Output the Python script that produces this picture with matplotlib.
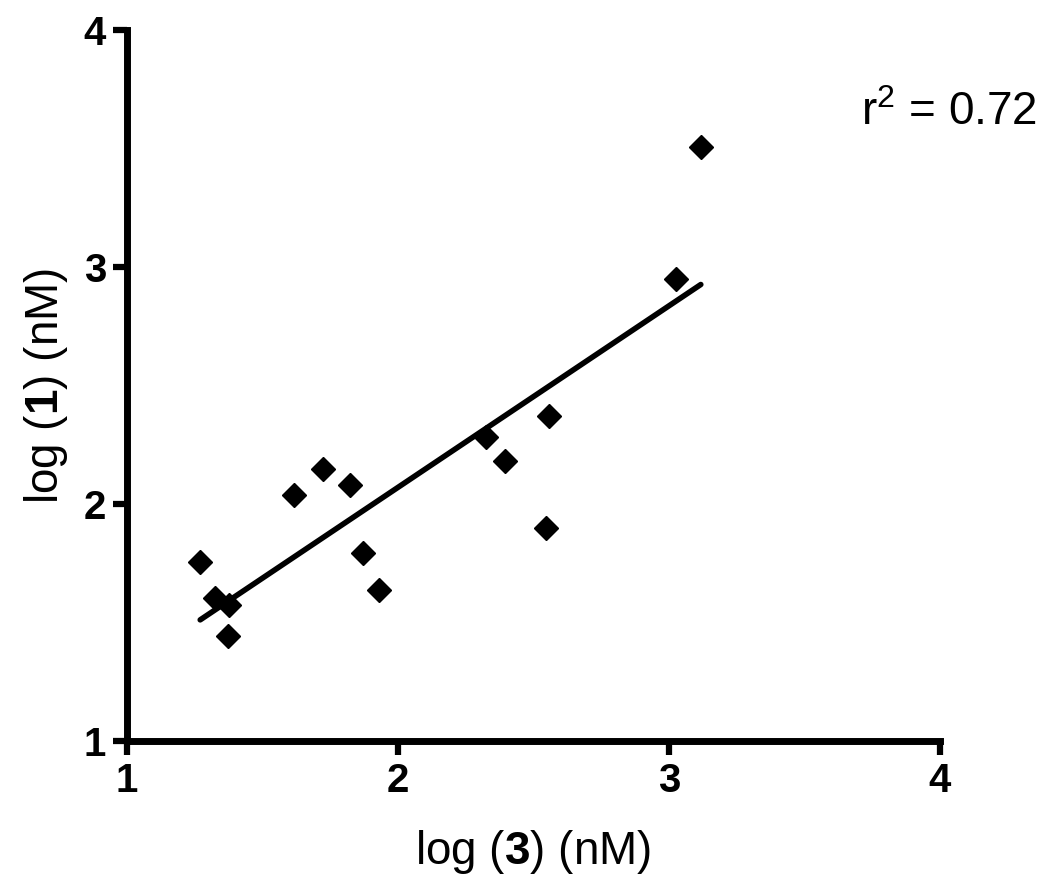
import numpy as np
import matplotlib
matplotlib.use("Agg")
import matplotlib.pyplot as plt

plt.rcParams['font.family'] = ['Liberation Sans', 'DejaVu Sans']
plt.rcParams['mathtext.fontset'] = 'custom'
plt.rcParams['mathtext.rm'] = 'Liberation Sans'
plt.rcParams['mathtext.bf'] = 'Liberation Sans:bold'
plt.rcParams['mathtext.default'] = 'regular'

# data: log(3) vs log(1), nM
log3 = [1.27, 1.325, 1.376, 1.373, 1.616, 1.723, 1.823, 1.871, 1.93,
        2.325, 2.395, 2.557, 2.546, 3.026, 3.118]
log1 = [1.755, 1.603, 1.574, 1.443, 2.038, 2.148, 2.08, 1.793, 1.637,
        2.283, 2.181, 2.371, 1.899, 2.949, 3.506]
xticks = [1, 2, 3, 4]
yticks = [1, 2, 3, 4]
r2_label = r'r$^2$ = 0.72'

fig = plt.figure(figsize=(10.5, 8.92), dpi=100)
ax = fig.add_axes([0.121, 0.1693, 0.774, 0.7971])

x = np.array(log3)
y = np.array(log1)
ax.plot(x, y, linestyle='none', marker='D', markersize=12,
        color='black', zorder=3)

slope, intercept = np.polyfit(x, y, 1)
xl = np.array([x.min(), x.max()])
ax.plot(xl, slope * xl + intercept, color='black', linewidth=4,
        solid_capstyle='round', zorder=2)

ax.set_xlim(1, 4)
ax.set_ylim(1, 4)
ax.set_xticks(xticks)
ax.set_yticks(yticks)
ax.set_xticklabels([str(t) for t in xticks], fontsize=29, fontweight='bold')
ax.set_yticklabels([str(t) for t in yticks], fontsize=29, fontweight='bold')

for s in ['top', 'right']:
    ax.spines[s].set_visible(False)
for s in ['left', 'bottom']:
    ax.spines[s].set_linewidth(5)
    ax.spines[s].set_capstyle('projecting')
ax.tick_params(axis='both', direction='out', length=10, width=4.5, pad=5)

ax.set_xlabel(r'log ($\mathbf{3}$) (nM)', fontsize=33, labelpad=20)
ax.set_ylabel(r'log ($\mathbf{1}$) (nM)', fontsize=33, labelpad=10)

ax.text(3.71, 3.6, r2_label, fontsize=33, ha='left', va='baseline')

fig.savefig('out.png', dpi=100)
